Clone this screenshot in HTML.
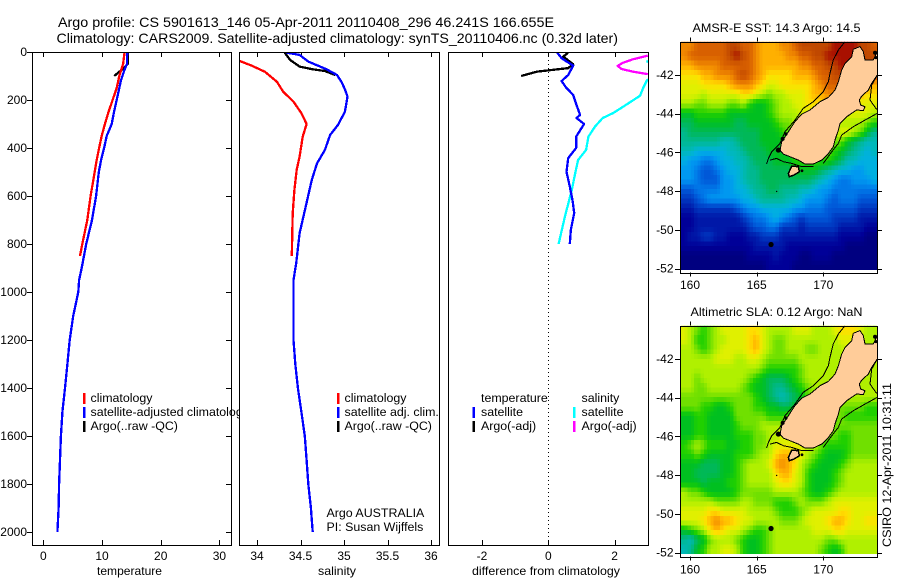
<!DOCTYPE html>
<html>
<head>
<meta charset="utf-8">
<title>Argo profile</title>
<style>
html,body{margin:0;padding:0;background:#fff;}
svg{display:block;}
text{font-family:"Liberation Sans",sans-serif;font-size:12px;fill:#000;}
.lg{font-size:12.4px;}
</style>
</head>
<body>
<svg id="fig" xmlns="http://www.w3.org/2000/svg" width="900" height="580" viewBox="0 0 900 580">
<rect x="0" y="0" width="900" height="580" fill="#fff"/>
<text x="58" y="27" style="font-size:14px" textLength="496" lengthAdjust="spacingAndGlyphs">Argo profile: CS 5901613_146 05-Apr-2011 20110408_296 46.241S 166.655E</text>
<text x="56.5" y="43" style="font-size:14px" textLength="561.5" lengthAdjust="spacingAndGlyphs">Climatology: CARS2009. Satellite-adjusted climatology: synTS_20110406.nc (0.32d later)</text>
<text x="692.5" y="32" textLength="168" lengthAdjust="spacingAndGlyphs">AMSR-E SST: 14.3 Argo: 14.5</text>
<text x="690.5" y="316" textLength="172" lengthAdjust="spacingAndGlyphs">Altimetric SLA: 0.12 Argo: NaN</text>
<text transform="translate(891,547) rotate(-90)" textLength="164" lengthAdjust="spacingAndGlyphs">CSIRO 12-Apr-2011 10:31:11</text>
<g id="panels"></g>
<g id="maps"></g>
</svg>
<script>
// ---- temperature panel data ----
const tempTicks = [0, 10, 20, 30];
const depthTicks = [0, 200, 400, 600, 800, 1000, 1200, 1400, 1600, 1800, 2000];
const tempSatDepth = [0,50,80,120,150,200,250,300,350,400,450,500,600,700,800,900,950,1000,1100,1200,1300,1400,1500,1600,1700,1800,1900,2000];
const tempSatValue = [14.3,14.25,13.75,13.2,12.95,12.5,12.05,11.65,10.8,10.35,9.85,9.45,9.0,8.3,7.3,6.55,6.1,5.97,5.1,4.5,4.1,3.7,3.25,3.0,2.85,2.7,2.6,2.4];
const tempClimDepth = [0,50,100,150,200,250,300,350,400,450,500,600,700,800,850];
const tempClimValue = [13.85,13.6,12.95,12.5,11.8,11.1,10.5,9.95,9.5,9.1,8.75,8.05,7.5,6.65,6.25];
const tempArgoDepth = [0,50,70,85,100];
const tempArgoValue = [14.45,14.4,13.6,12.8,12.1];

// ---- salinity panel data ----
const salTicks = [34, 34.5, 35, 35.5, 36];
const salTickLabels = ['34', '34.5', '35', '35.5', '36'];
const salClimDepth = [37,57,82,124,165,207,255,300,353,436,491,575,672,850];
const salClimValue = [33.8,33.94,34.09,34.23,34.3,34.42,34.51,34.57,34.525,34.49,34.456,34.43,34.41,34.4];
const salSatDepth = [3,12,40,72,96,124,155,186,249,304,346,408,464,533,644,755,880,950,990,1100,1200,1300,1400,1500,1600,1700,1800,1900,2000];
const salSatValue = [34.34,34.49,34.59,34.8,34.92,34.97,35.01,35.04,35.01,34.93,34.84,34.78,34.69,34.63,34.56,34.49,34.45,34.42,34.42,34.42,34.42,34.44,34.47,34.51,34.55,34.57,34.59,34.62,34.64];
const salArgoDepth = [3,33,61,72,79,96];
const salArgoValue = [34.32,34.38,34.49,34.64,34.78,34.9];

// ---- difference panel data ----
const diffTicks = [-2, 0, 2];
const diffTempSatDepth = [3,26,57,96,121,147,179,221,262,275,300,353,400,442,499,561,617,671,742,800];
const diffTempSatValue = [0.27,0.4,0.75,0.6,0.4,0.53,0.75,0.85,0.96,0.85,1.08,0.84,0.84,0.6,0.55,0.65,0.73,0.78,0.68,0.65];
const diffTempArgoDepth = [3,19,51,67,82,100];
const diffTempArgoValue = [0.6,0.45,0.75,0.6,-0.35,-0.82];
const diffSalSatDepth = [38,46,110,117,150,182,228,255,275,311,353,408,450,505,575,686,800];
const diffSalSatValue = [2.96,3.1,3.1,2.98,2.86,2.77,2.26,1.95,1.64,1.41,1.21,1.14,0.9,0.81,0.71,0.5,0.31];
const diffSalArgoDepth = [15,30,45,58,71,82,92];
const diffSalArgoValue = [3.0,2.56,2.25,2.09,2.21,2.56,3.0];

// ---- map data ----
const lonTicks = [160, 165, 170];
const latTicks = [-42, -44, -46, -48, -50, -52];
const sstLevels = [
[18,18,19,19,19,19,19,20,20,19,19,18,17,17,17,18,18,19,20,20,20,20,20,21,21,21,21,20,20,19],
[18,19,19,19,19,19,19,20,21,20,19,18,17,17,17,17,18,18,19,19,20,20,21,21,21,21,21,20,20,20],
[17,17,18,18,18,18,19,19,19,19,19,18,17,17,17,17,17,17,18,18,19,19,20,20,21,21,21,20,20,20],
[16,16,16,17,17,18,18,18,19,20,19,18,17,16,16,16,16,17,17,17,18,19,19,20,20,20,20,20,20,20],
[15,15,15,16,16,16,16,17,18,18,18,17,16,15,15,16,16,16,16,16,17,18,19,19,19,19,19,19,18,17],
[15,15,15,14,15,15,15,15,15,16,16,15,14,13,14,14,15,15,15,16,17,17,18,18,18,18,18,17,16,16],
[14,14,13,13,14,14,14,13,13,14,12,11,11,12,13,14,14,15,15,16,16,16,17,17,17,16,16,15,15,15],
[11,11,12,12,12,12,12,11,11,11,11,11,11,12,13,14,14,14,15,15,15,15,15,15,15,15,15,15,15,14],
[10,10,11,11,11,11,11,11,10,10,11,11,11,11,12,13,13,14,14,14,14,14,14,14,14,14,14,14,13,12],
[9,10,10,10,10,10,10,10,10,10,10,10,11,11,11,12,13,13,13,14,14,14,14,14,15,15,14,13,11,9],
[9,9,9,9,9,9,8,8,9,10,10,10,11,11,11,11,12,13,13,14,14,13,13,13,13,11,10,9,8,8],
[8,8,7,7,7,7,7,8,8,9,10,10,10,11,11,11,11,12,12,13,13,13,13,12,11,10,9,8,7,8],
[7,6,6,5,5,6,7,7,8,8,9,10,10,10,11,11,11,12,12,12,12,12,12,11,10,8,8,7,7,7],
[6,6,5,4,4,5,6,7,7,8,9,9,10,10,10,10,10,11,11,11,11,10,9,8,7,7,6,6,7,7],
[6,6,5,4,4,4,6,6,7,8,9,9,10,10,10,10,10,10,10,10,9,8,7,6,5,5,6,6,6,7],
[4,4,5,5,5,5,6,6,7,7,8,9,9,10,10,9,9,9,8,8,7,6,6,5,5,5,5,5,5,5],
[3,3,4,5,6,6,6,6,6,7,7,8,9,9,9,9,8,8,7,6,6,6,5,4,5,5,5,4,4,4],
[2,2,3,3,3,3,3,3,4,5,6,6,7,7,7,7,7,6,6,5,5,5,4,4,4,4,4,3,3,3],
[1,1,2,2,2,2,2,2,2,3,4,5,5,6,7,6,5,4,3,4,4,4,4,3,3,3,3,2,2,2],
[1,1,2,2,2,2,2,2,2,2,3,4,4,5,5,3,3,3,2,3,3,3,3,3,2,2,2,2,1,1],
[1,2,2,3,3,2,2,1,1,1,2,2,3,3,3,2,2,2,2,2,2,2,2,2,1,1,1,1,0,0],
[1,1,1,1,1,1,1,1,1,1,1,2,2,2,2,2,1,1,1,1,1,1,1,1,1,0,0,0,0,0],
[0,0,0,0,0,0,0,0,0,0,1,1,1,1,2,1,1,1,0,0,1,1,1,0,0,0,0,0,0,0],
[0,0,0,0,0,0,0,0,0,0,0,0,0,1,1,1,1,0,0,0,0,0,0,0,0,0,0,0,0,0]
];
const slaLevels = [
[15,14,13,12,13,14,15,15,15,15,16,16,15,14,14,14,14,15,15,15,14,14,14,15,16,16,16,15,14,14],
[15,14,12,12,13,14,14,15,15,15,16,17,15,14,13,13,14,14,14,14,14,14,14,14,15,15,15,14,14,14],
[14,14,13,12,13,14,15,15,15,15,16,17,15,14,13,13,14,14,14,13,13,14,14,14,14,15,15,14,14,14],
[14,14,14,14,14,15,15,15,14,14,15,15,14,13,13,13,13,13,14,14,14,14,14,14,14,14,14,14,14,14],
[14,14,14,14,14,14,14,14,14,14,14,14,13,12,12,12,12,12,13,14,14,14,14,14,14,14,14,14,14,14],
[14,14,13,14,14,14,14,14,14,14,13,12,11,10,10,10,11,12,13,14,14,14,14,14,14,14,14,14,14,14],
[14,14,13,13,14,14,14,14,14,13,12,11,11,10,9,9,10,11,12,13,14,14,14,14,14,14,14,14,14,14],
[13,13,13,13,13,13,13,13,13,13,13,12,11,10,9,8,9,10,11,13,13,13,13,14,14,14,14,14,14,14],
[13,13,13,12,12,11,11,12,13,13,13,12,12,11,11,10,10,11,12,13,13,13,13,13,13,13,13,13,12,12],
[11,11,12,12,11,11,11,11,13,13,13,13,13,12,12,12,13,14,14,14,14,13,13,13,13,12,12,12,12,12],
[11,11,12,12,11,11,11,11,12,13,13,13,14,14,14,14,15,15,14,14,14,14,13,13,13,13,13,13,13,13],
[11,11,12,12,11,11,11,11,12,12,12,13,13,14,14,15,15,15,15,14,14,13,13,13,12,12,13,13,13,13],
[12,13,14,13,12,12,12,11,11,12,12,13,13,14,15,15,15,15,15,14,14,13,12,12,12,12,13,13,13,13],
[12,12,13,12,11,11,11,11,12,12,12,13,14,14,16,17,17,16,15,14,13,12,11,11,11,12,13,13,13,13],
[11,11,11,10,10,10,11,11,12,13,14,14,14,15,17,18,17,16,14,13,12,11,11,11,12,13,14,14,14,14],
[11,11,10,10,10,10,11,11,12,13,14,14,14,14,16,17,17,15,14,12,11,11,11,12,13,14,14,14,14,14],
[11,11,11,10,11,11,11,12,12,13,14,14,14,14,15,16,16,15,14,12,11,11,11,12,13,14,14,14,14,14],
[14,13,13,12,11,11,11,11,12,13,13,13,13,13,14,14,14,14,13,12,11,11,12,13,14,14,14,14,14,14],
[14,14,14,14,14,13,13,13,13,14,14,13,13,13,12,12,12,13,14,13,13,13,14,15,15,15,15,15,15,15],
[15,15,15,15,16,16,15,15,15,15,14,14,14,14,13,12,12,12,13,14,15,15,15,15,16,16,15,15,15,15],
[15,15,15,16,17,18,17,17,16,15,15,14,14,14,14,13,13,13,14,15,15,15,16,17,17,16,15,15,16,16],
[11,12,13,14,16,17,16,15,15,14,13,12,12,13,14,14,14,14,14,14,15,15,15,16,16,15,15,15,15,15],
[9,8,10,11,13,14,14,14,13,12,11,11,12,13,14,14,14,14,14,14,14,14,13,13,14,14,14,14,14,14],
[8,9,11,12,14,14,15,15,14,12,11,11,12,13,14,14,14,14,14,14,14,13,12,11,12,14,14,14,14,14]
];
const levelColors = [[0,0,128],[0,0,152],[0,24,168],[0,56,192],[0,88,216],[0,120,232],[0,152,240],[0,176,224],[0,184,184],[0,184,144],[0,184,88],[0,192,32],[32,208,0],[112,224,0],[176,240,0],[224,240,0],[255,224,0],[255,176,0],[240,136,0],[216,96,0],[192,72,0],[168,16,0]];
const landLon = [172.25,172.75,173,173.13,173.75,174.05,174.6,174.6,174.05,173.63,173.38,172.88,172.7,172.8,173.13,173,172.5,171.75,171.25,171.13,170.88,170.75,170.38,169.88,169.25,168.63,168.13,167.5,167,166.75,166.88,167.38,167.88,168.38,169,169.75,170.38,170.88,171.13,171.38,171.63,172.13];
const landLat = [-40.67,-40.53,-40.79,-41.22,-41.22,-40.79,-40.79,-42.09,-42,-42.43,-42.78,-43.09,-43.29,-43.55,-43.64,-43.84,-43.81,-44.16,-44.5,-44.84,-45.36,-45.71,-46.05,-46.4,-46.6,-46.6,-46.4,-46.22,-46.09,-45.88,-45.45,-44.93,-44.41,-44.02,-43.81,-43.38,-43.16,-42.78,-42.34,-41.74,-41.4,-41.05];
const stewartLon = [167.63,168.13,168.2,167.8,167.45,167.38];
const stewartLat = [-46.71,-46.74,-47,-47.17,-47.26,-47.09];
const isoALon = [171.63,171.13,170.75,170.5,170.38,170,169.25,168.5,167.88,167.13,166.75,166.13,165.88,165.75];
const isoALat = [-40.28,-40.71,-41.22,-41.91,-42.34,-42.86,-43.38,-43.72,-44.33,-44.93,-45.53,-45.97,-46.31,-46.6];
const isoBLon = [174.05,173.63,173.5,174];
const isoBLat = [-42,-42.52,-43.29,-43.78];
const isoCLon = [174.05,173.13,172.25,171.38,171.13,170.63,170];
const isoCLat = [-43.98,-44.33,-44.67,-45.1,-45.53,-45.97,-46.57];
const isoDLon = [166,166.5,167,167.63,168.38,169.25];
const isoDLat = [-46.4,-46.31,-46.48,-46.57,-46.74,-46.74];
const blobLon = [166.63,166.95,167.2,173.88,173.95,166.08,168.4,166.5];
const blobLat = [-45.88,-45.3,-45.05,-40.85,-41.1,-50.76,-46.95,-48.02];
const blobRadius = [2.6,2,1.6,2,1.6,2.6,1.4,0.7];

const NS = 'http://www.w3.org/2000/svg';
const panelsG = document.getElementById('panels');
const mapsG = document.getElementById('maps');
function mk(tag, attrs, parent) {
  const el = document.createElementNS(NS, tag);
  for (const k in attrs) el.setAttribute(k, attrs[k]);
  parent.appendChild(el);
  return el;
}
const TOP = 52, BOTTOM = 545;
const depthY = d => 52 + d * 0.24;
const tempX = v => 43.3 + v * 5.87;
const salX = v => 257 + (v - 34) * 87;
const diffX = v => 548.3 + v * 33.15;
function pts(xs, ys, fx, fy) {
  return xs.map((x, i) => fx(x).toFixed(1) + ',' + fy(ys[i]).toFixed(1)).join(' ');
}

function drawPanel(name, left, right, xTicks, xLabels, xScale, xTitle, titleX, titleLen) {
  const g = mk('g', {}, panelsG);
  
  
  const bg = mk('rect', {x: left, y: TOP, width: right - left, height: BOTTOM - TOP, fill: '#fff'}, g);
  
  
  const clip = mk('clipPath', {id: 'clip-' + name}, g);
  mk('rect', {x: left, y: TOP, width: right - left, height: BOTTOM - TOP}, clip);
  xTicks.forEach((t, i) => {
    const x = Math.round(xScale(t)) + 0.5;
    const t1 = mk('line', {x1: x, x2: x, y1: TOP, y2: TOP + 5, stroke: '#000', 'shape-rendering': 'crispEdges'}, g);
    
    
    const t2 = mk('line', {x1: x, x2: x, y1: BOTTOM, y2: BOTTOM - 5, stroke: '#000', 'shape-rendering': 'crispEdges'}, g);
    
    
    const lbl = mk('text', {x: xScale(t), y: 560, 'text-anchor': 'middle'}, g);
    
    
    lbl.textContent = xLabels[i];
  });
  const ttl = mk('text', {x: titleX, y: 575, textLength: titleLen, lengthAdjust: 'spacingAndGlyphs'}, g);
  
  
  ttl.textContent = xTitle;
  return g;
}
function finishPanel(g, name, left, right) {
  const box = mk('rect', {x: left + 0.5, y: TOP + 0.5, width: right - left, height: BOTTOM - TOP, fill: 'none', stroke: '#000', 'shape-rendering': 'crispEdges'}, g);
  
  
}
function drawLine(g, name, panel, xs, ds, xScale, color, width) {
  const l = mk('polyline', {points: pts(xs, ds, xScale, depthY), fill: 'none', stroke: color, 'stroke-width': width, 'clip-path': 'url(#clip-' + panel + ')', 'shape-rendering': 'crispEdges', 'stroke-linejoin': 'round'}, g);
  
  
}
function legendEntry(g, name, barX, textX, y, color, label) {
  if (color) {
    const b = mk('rect', {x: barX - 1, y: y - 9, width: 2.4, height: 11, fill: color, 'shape-rendering': 'crispEdges'}, g);
    
    
  }
  const t = mk('text', {x: textX, y: y, class: 'lg'}, g);
  
  
  t.textContent = label;
}

// temperature panel
const gT = drawPanel('temperature', 32, 231, tempTicks, tempTicks.map(String), tempX, 'temperature', 97, 65);
depthTicks.forEach(d => {
  const y = Math.round(depthY(d)) + 0.5;
  const a = mk('line', {x1: 27, x2: 32, y1: y, y2: y, stroke: '#000', 'shape-rendering': 'crispEdges'}, gT);
  
  
  const b = mk('line', {x1: 226, x2: 231, y1: y, y2: y, stroke: '#000', 'shape-rendering': 'crispEdges'}, gT);
  
  
  const t = mk('text', {x: 27, y: depthY(d) + 4, 'text-anchor': 'end'}, gT);
  
  
  t.textContent = d;
});
drawLine(gT, 'temperature-argo-line', 'temperature', tempArgoValue, tempArgoDepth, tempX, '#000', 2.3);
drawLine(gT, 'temperature-climatology-line', 'temperature', tempClimValue, tempClimDepth, tempX, '#f00', 2.3);
drawLine(gT, 'temperature-satellite-line', 'temperature', tempSatValue, tempSatDepth, tempX, '#00f', 2.3);
finishPanel(gT, 'temperature', 32, 231);
legendEntry(gT, 'legend-temp-climatology', 84, 90.5, 402, '#f00', 'climatology');
legendEntry(gT, 'legend-temp-satellite', 84, 90.5, 416, '#00f', 'satellite-adjusted climatology');
legendEntry(gT, 'legend-temp-argo', 84, 90.5, 430, '#000', 'Argo(..raw -QC)');

// salinity panel
const gS = drawPanel('salinity', 239, 439, salTicks, salTickLabels, salX, 'salinity', 318, 38);
drawLine(gS, 'salinity-argo-line', 'salinity', salArgoValue, salArgoDepth, salX, '#000', 2.3);
drawLine(gS, 'salinity-climatology-line', 'salinity', salClimValue, salClimDepth, salX, '#f00', 2.3);
drawLine(gS, 'salinity-satellite-line', 'salinity', salSatValue, salSatDepth, salX, '#00f', 2.3);
finishPanel(gS, 'salinity', 239, 439);
legendEntry(gS, 'legend-sal-climatology', 338, 344.5, 402, '#f00', 'climatology');
legendEntry(gS, 'legend-sal-satellite', 338, 344.5, 416, '#00f', 'satellite adj. clim.');
legendEntry(gS, 'legend-sal-argo', 338, 344.5, 430, '#000', 'Argo(..raw -QC)');
legendEntry(gS, 'credit-argo-australia', 0, 326.5, 517, null, 'Argo AUSTRALIA');
legendEntry(gS, 'credit-pi', 0, 326.5, 531, null, 'PI: Susan Wijffels');

// difference panel
const gD = drawPanel('difference', 448, 648, diffTicks, diffTicks.map(String), diffX, 'difference from climatology', 472, 148);
const zeroLine = mk('line', {x1: 548.5, x2: 548.5, y1: TOP, y2: BOTTOM, stroke: '#000', 'stroke-dasharray': '1 3', 'shape-rendering': 'crispEdges'}, gD);


drawLine(gD, 'diff-temp-argo-line', 'difference', diffTempArgoValue, diffTempArgoDepth, diffX, '#000', 2.3);
drawLine(gD, 'diff-sal-argo-line', 'difference', diffSalArgoValue, diffSalArgoDepth, diffX, '#f0f', 2.3);
drawLine(gD, 'diff-sal-satellite-line', 'difference', diffSalSatValue, diffSalSatDepth, diffX, '#0ff', 2.3);
drawLine(gD, 'diff-temp-satellite-line', 'difference', diffTempSatValue, diffTempSatDepth, diffX, '#00f', 2.3);
finishPanel(gD, 'difference', 448, 648);
legendEntry(gD, 'legend-diff-temperature-heading', 0, 481, 402, null, 'temperature');
legendEntry(gD, 'legend-diff-temp-satellite', 473.5, 481, 416, '#00f', 'satellite');
legendEntry(gD, 'legend-diff-temp-argo', 473.5, 481, 430, '#000', 'Argo(-adj)');
legendEntry(gD, 'legend-diff-salinity-heading', 0, 581.5, 402, null, 'salinity');
legendEntry(gD, 'legend-diff-sal-satellite', 574, 581.5, 416, '#0ff', 'satellite');
legendEntry(gD, 'legend-diff-sal-argo', 574, 581.5, 430, '#f0f', 'Argo(-adj)');

// colour for a (possibly fractional) level
function levelColor(v) {
  const top = levelColors.length - 1;
  const c = Math.max(0, Math.min(top, v));
  const i = Math.min(top - 1, Math.floor(c));
  const f = c - i;
  const a = levelColors[i], b = levelColors[i + 1];
  return 'rgb(' + a.map((p, k) => Math.round(p + (b[k] - p) * f)).join(',') + ')';
}
// bilinear lookup of a level at a fractional row / column position
function levelAt(levels, rp, cp) {
  const nR = levels.length, nC = levels[0].length;
  const r = Math.max(0, Math.min(nR - 1, rp)), c = Math.max(0, Math.min(nC - 1, cp));
  const r0 = Math.floor(r), c0 = Math.floor(c);
  const r1 = Math.min(nR - 1, r0 + 1), c1 = Math.min(nC - 1, c0 + 1);
  const fr = r - r0, fc = c - c0;
  return (levels[r0][c0] * (1 - fc) + levels[r0][c1] * fc) * (1 - fr) + (levels[r1][c0] * (1 - fc) + levels[r1][c1] * fc) * fr;
}

// maps
function drawMap(name, top, axisBottom, dataBottom, lat42Y, levels, labelY) {
  const LEFT = 680, RIGHT = 877, SUB = 2;
  const lonX = lon => 690 + (lon - 160) * 13.33;
  const latY = lat => lat42Y + (-42 - lat) * 19.35;
  const g = mk('g', {}, mapsG);
  
  
  const clip = mk('clipPath', {id: 'clip-' + name}, g);
  mk('rect', {x: LEFT + 1, y: top, width: RIGHT - LEFT - 1, height: dataBottom - top}, clip);
  const cellsG = mk('g', {'clip-path': 'url(#clip-' + name + ')', 'shape-rendering': 'crispEdges'}, g);
  
  
  const nRows = levels.length * SUB, nCols = levels[0].length * SUB;
  const cw = (RIGHT - LEFT - 1) / nCols, ch = (dataBottom - top) / nRows;
  for (let r = 0; r < nRows; r++) {
    for (let c = 0; c < nCols; c++) {
      const v = levelAt(levels, (r + 0.5) / SUB - 0.5, (c + 0.5) / SUB - 0.5);
      const cell = mk('rect', {x: (LEFT + 1 + c * cw).toFixed(2), y: (top + r * ch).toFixed(2), width: (cw + 0.6).toFixed(2), height: (ch + 0.6).toFixed(2), fill: levelColor(v)}, cellsG);
      
      
    }
  }
  const over = mk('g', {'clip-path': 'url(#clip-' + name + ')'}, g);
  
  
  const land = mk('polygon', {points: pts(landLon, landLat, lonX, latY), fill: '#ffcc99', stroke: '#000', 'stroke-width': 1, 'shape-rendering': 'crispEdges'}, over);
  
  
  const stew = mk('polygon', {points: pts(stewartLon, stewartLat, lonX, latY), fill: '#ffcc99', stroke: '#000', 'stroke-width': 1.5, 'shape-rendering': 'crispEdges'}, over);
  
  
  [[isoALon, isoALat], [isoBLon, isoBLat], [isoCLon, isoCLat], [isoDLon, isoDLat]].forEach(pair => {
    const iso = mk('polyline', {points: pts(pair[0], pair[1], lonX, latY), fill: 'none', stroke: '#000', 'stroke-width': 1, 'shape-rendering': 'crispEdges'}, over);
    
    
  });
  blobLon.forEach((lon, i) => {
    const b = mk('circle', {cx: lonX(lon), cy: latY(blobLat[i]), r: blobRadius[i], fill: '#000'}, over);
    
    
  });
  lonTicks.forEach(t => {
    const x = Math.round(lonX(t)) + 0.5;
    const a = mk('line', {x1: x, x2: x, y1: top - 4, y2: top, stroke: '#000', 'shape-rendering': 'crispEdges'}, g);
    
    
    const b = mk('line', {x1: x, x2: x, y1: axisBottom, y2: axisBottom + 4, stroke: '#000', 'shape-rendering': 'crispEdges'}, g);
    
    
    const l = mk('text', {x: lonX(t), y: labelY, 'text-anchor': 'middle'}, g);
    
    
    l.textContent = t;
  });
  latTicks.forEach(t => {
    const y = Math.round(latY(t)) + 0.5;
    const a = mk('line', {x1: LEFT - 5, x2: LEFT, y1: y, y2: y, stroke: '#000', 'shape-rendering': 'crispEdges'}, g);
    
    
    const b = mk('line', {x1: RIGHT, x2: RIGHT + 5, y1: y, y2: y, stroke: '#000', 'shape-rendering': 'crispEdges'}, g);
    
    
    const l = mk('text', {x: 673.5, y: latY(t) + 4, 'text-anchor': 'end'}, g);
    
    
    l.textContent = t;
  });
  const frame = mk('rect', {x: LEFT + 0.5, y: Math.round(top) + 0.5, width: RIGHT - LEFT, height: Math.round(axisBottom - top), fill: 'none', stroke: '#000', 'shape-rendering': 'crispEdges'}, g);
  
  
}
drawMap('sst', 41.7, 272.5, 270, 75, sstLevels, 289);
drawMap('sla', 325.7, 556.5, 554, 359, slaLevels, 573.5);
</script>
</body>
</html>
